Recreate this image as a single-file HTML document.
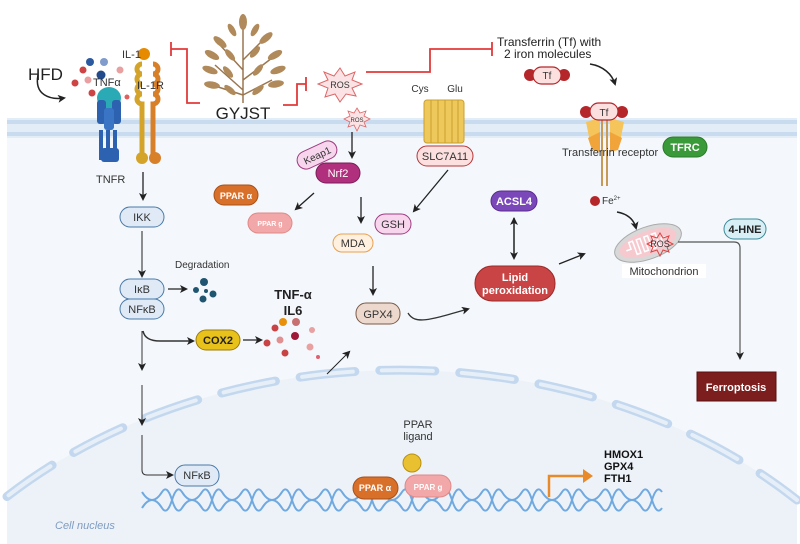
<!DOCTYPE html>
<html><head><meta charset="utf-8"><style>
html,body{margin:0;padding:0;background:#fff;width:800px;height:544px;overflow:hidden;}
svg{display:block;font-family:"Liberation Sans",sans-serif;}
</style></head><body>
<svg width="800" height="544" viewBox="0 0 800 544" xmlns="http://www.w3.org/2000/svg">
<defs>
<marker id="ah" markerWidth="8" markerHeight="8" refX="6" refY="4" orient="auto" markerUnits="userSpaceOnUse"><path d="M0,0 L8,4 L0,8 L2,4 Z" fill="#222"/></marker>
<marker id="ahs" markerWidth="8" markerHeight="8" refX="7" refY="4" orient="auto-start-reverse" markerUnits="userSpaceOnUse"><path d="M0,0 L8,4 L0,8 L2,4 Z" fill="#222"/></marker>
<clipPath id="dna"><rect x="140" y="480" width="528" height="40"/></clipPath>
</defs>
<rect x="7" y="118" width="790" height="426" fill="#f4f8fc"/>
<rect x="7" y="118" width="790" height="20" fill="#e3edf7"/>
<rect x="7" y="120" width="790" height="4" fill="#c9dcef"/>
<rect x="7" y="132" width="790" height="4" fill="#c9dcef"/>
<path d="M7,496.5 A560,440 0 0,1 797,500 L797,544 L7,544 Z" fill="#edf2f9"/>
<path d="M7,496.5 A560,440 0 0,1 797,500" fill="none" stroke="#c3d8ee" stroke-width="9" stroke-dasharray="55 25" stroke-linecap="round"/>
<path d="M7,496.5 A560,440 0 0,1 797,500" fill="none" stroke="#e6eef8" stroke-width="4" stroke-dasharray="51 29" stroke-dashoffset="-2" stroke-linecap="round"/>
<text x="55" y="529" font-size="11" font-style="italic" fill="#7f9cc0">Cell nucleus</text>

<text x="28" y="80" font-size="17" fill="#222">HFD</text>
<path d="M38,75 C34,95 50,100 64,98" fill="none" stroke="#222" stroke-width="1.5" marker-end="url(#ah)"/>
<g>
<circle cx="90" cy="62" r="4" fill="#2c5aa0"/><circle cx="104" cy="62" r="4" fill="#7f9ccc"/>
<circle cx="83" cy="70" r="3.5" fill="#c44"/><circle cx="101" cy="75" r="4.5" fill="#234a8a"/>
<circle cx="120" cy="70" r="3.5" fill="#e8a0a0"/><circle cx="75" cy="83" r="3.5" fill="#c44"/>
<circle cx="88" cy="80" r="3.5" fill="#e8a0a0"/><circle cx="92" cy="93" r="3.5" fill="#c44"/>
<circle cx="127" cy="97" r="2.5" fill="#e06060"/>
</g>
<g fill="#2d62b0">
<ellipse cx="109" cy="98" rx="12" ry="11" fill="#2aaab5"/>
<rect x="97" y="100" width="9" height="24" rx="3"/><rect x="112" y="100" width="9" height="24" rx="3"/>
<rect x="104" y="108" width="10" height="22" rx="3" fill="#3a74c4"/>
<rect x="99" y="130" width="4" height="30" /><rect x="106" y="130" width="4" height="32"/><rect x="113" y="130" width="4" height="30"/>
<rect x="101" y="148" width="18" height="14" rx="3" fill="#2d62b0"/>
</g>
<text x="93" y="86" font-size="11" fill="#333">TNFα</text>
<text x="96" y="183" font-size="11" fill="#333">TNFR</text>
<g fill="none" stroke="#d4a32a" stroke-width="5">
<path d="M142,64 a5,5 0 1 0 0,10 a5,5 0 1 0 0,10 a5,5 0 1 0 0,10 a5,5 0 1 0 0,10 V155"/>
</g>
<g fill="none" stroke="#d87f2a" stroke-width="5">
<path d="M153,64 a5,5 0 1 1 0,10 a5,5 0 1 1 0,10 a5,5 0 1 1 0,10 a5,5 0 1 1 0,10 V155"/>
</g>
<circle cx="142" cy="158" r="6" fill="#d4a32a"/><circle cx="155" cy="158" r="6" fill="#d87f2a"/>
<circle cx="144" cy="54" r="6" fill="#e68a00"/>
<text x="122" y="58" font-size="11" fill="#333">IL-1</text>
<text x="137" y="89" font-size="11" fill="#333">IL-1R</text>

<g stroke="#9a7650" stroke-width="1.5" fill="#b08a5a">
<path d="M243,103 V25 M243,90 L215,65 M243,80 L272,58 M243,70 L220,45 M243,60 L265,38 M243,95 L272,80 M243,95 L212,85" fill="none"/>
<g stroke="none">
<ellipse cx="243" cy="22" rx="4" ry="8"/><ellipse cx="232" cy="30" rx="3" ry="7" transform="rotate(-30 232 30)"/>
<ellipse cx="255" cy="30" rx="3" ry="7" transform="rotate(30 255 30)"/><ellipse cx="220" cy="42" rx="3.5" ry="8" transform="rotate(-50 220 42)"/>
<ellipse cx="266" cy="38" rx="3.5" ry="8" transform="rotate(50 266 38)"/><ellipse cx="212" cy="55" rx="3.5" ry="8" transform="rotate(-60 212 55)"/>
<ellipse cx="275" cy="55" rx="3.5" ry="8" transform="rotate(60 275 55)"/><ellipse cx="210" cy="70" rx="3.5" ry="8" transform="rotate(-70 210 70)"/>
<ellipse cx="278" cy="70" rx="3.5" ry="8" transform="rotate(70 278 70)"/><ellipse cx="212" cy="85" rx="3.5" ry="8" transform="rotate(-80 212 85)"/>
<ellipse cx="276" cy="84" rx="3.5" ry="8" transform="rotate(80 276 84)"/><ellipse cx="230" cy="55" rx="3" ry="7" transform="rotate(-40 230 55)"/>
<ellipse cx="255" cy="52" rx="3" ry="7" transform="rotate(40 255 52)"/><ellipse cx="228" cy="72" rx="3" ry="7" transform="rotate(-40 228 72)"/>
<ellipse cx="258" cy="70" rx="3" ry="7" transform="rotate(40 258 70)"/><ellipse cx="230" cy="90" rx="3" ry="7" transform="rotate(-50 230 90)"/>
<ellipse cx="258" cy="90" rx="3" ry="7" transform="rotate(50 258 90)"/>
</g></g>
<text x="243" y="119" font-size="17" fill="#222" text-anchor="middle">GYJST</text>

<g fill="none" stroke="#e23a3a" stroke-width="1.8">
<path d="M200,103 H187 V49 H171 M171,42 V56"/>
<path d="M283,105 H297 V84 H306 M306,77 V91"/>
<path d="M366,72 H430 V49 H492 M492,42 V56"/>
</g>
<polygon points="340,68 345,76 355,72 352,80 362,84 352,88 356,96 346,94 340,102 335,94 325,97 328,88 318,84 328,80 324,72 334,76" fill="#fbe3e5" stroke="#d66" stroke-width="1"/>
<text x="340" y="88" font-size="9" text-anchor="middle" fill="#333">ROS</text>
<polygon points="357,108 360,113 366,111 364,116 370,119 364,122 366,127 360,125 357,131 354,125 348,127 350,122 344,119 350,116 348,111 354,113" fill="#fbe3e5" stroke="#d66" stroke-width="0.8"/>
<text x="357" y="122" font-size="6" text-anchor="middle" fill="#333">ROS</text>

<text x="497" y="46" font-size="12" fill="#222">Transferrin (Tf) with</text>
<text x="504" y="58" font-size="12" fill="#222">2 iron molecules</text>
<circle cx="530" cy="75" r="6" fill="#b5262a"/><circle cx="564" cy="75" r="6" fill="#b5262a"/>
<rect x="533" y="67" width="28" height="17" rx="8.5" fill="#fbe0df" stroke="#b5262a" stroke-width="1.2"/>
<text x="547" y="79" font-size="10" text-anchor="middle" fill="#333">Tf</text>
<path d="M590,64 C603,66 612,74 615,84" fill="none" stroke="#222" stroke-width="1.5" marker-end="url(#ah)"/>
<path d="M586,122 L600,118 L600,145 L590,142 Z M624,122 L610,118 L610,145 L620,142 Z" fill="#f5c45a"/>
<path d="M588,138 L600,132 L600,152 L592,150 Z M622,138 L610,132 L610,152 L618,150 Z" fill="#f0a43a"/>
<rect x="601" y="118" width="2" height="68" fill="#c99a55"/><rect x="606" y="118" width="2" height="68" fill="#c99a55"/>
<circle cx="586" cy="112" r="6" fill="#b5262a"/><circle cx="622" cy="112" r="6" fill="#b5262a"/>
<rect x="590" y="103" width="28" height="17" rx="8.5" fill="#fbe0df" stroke="#b5262a" stroke-width="1.2"/>
<text x="604" y="116" font-size="10" text-anchor="middle" fill="#333">Tf</text>
<text x="562" y="156" font-size="11" fill="#333">Transferrin receptor</text>
<rect x="663" y="137" width="44" height="20" rx="10" fill="#3a9a3a" stroke="#2a7a2a"/>
<text x="685" y="151" font-size="11" font-weight="bold" text-anchor="middle" fill="#fff">TFRC</text>
<circle cx="595" cy="201" r="5" fill="#b5262a"/>
<text x="602" y="204" font-size="10" fill="#333">Fe<tspan font-size="6" dy="-4">2+</tspan></text>
<path d="M617,212 C628,214 634,220 636,228" fill="none" stroke="#222" stroke-width="1.5" marker-end="url(#ah)"/>
<g transform="rotate(-20 648 243)">
<ellipse cx="648" cy="243" rx="35" ry="16" fill="#d8d8d8" stroke="#aaa"/>
<ellipse cx="648" cy="243" rx="30" ry="12" fill="#f6c9cf"/>
<path d="M625,243 h5 v-7 h4 v14 h4 v-14 h4 v14 h4 v-14 h4 v14 h4 v-14 h4 v14 h4 v-7 h5" fill="none" stroke="#fff" stroke-width="1.5"/>
</g>
<polygon points="660,233 663,238 669,236 667,241 673,244 667,247 669,252 663,250 660,256 657,250 651,252 653,247 647,244 653,241 651,236 657,238" fill="none" stroke="#d44" stroke-width="1"/>
<text x="660" y="247" font-size="9" text-anchor="middle" fill="#333">ROS</text>
<rect x="622" y="264" width="84" height="14" fill="#fff"/>
<text x="664" y="275" font-size="11" text-anchor="middle" fill="#333">Mitochondrion</text>
<rect x="724" y="219" width="42" height="20" rx="10" fill="#d7eff5" stroke="#3a8a9a"/>
<text x="745" y="233" font-size="11" font-weight="bold" text-anchor="middle" fill="#222">4-HNE</text>
<path d="M678,242 H734 Q740,242 740,248 V358" fill="none" stroke="#555" stroke-width="1.2" marker-end="url(#ah)"/>
<rect x="697" y="372" width="79" height="29" fill="#7d1e1e" stroke="#5a1010"/>
<text x="736" y="391" font-size="11" font-weight="bold" text-anchor="middle" fill="#fff">Ferroptosis</text>

<text x="420" y="92" font-size="10" fill="#333" text-anchor="middle">Cys</text>
<text x="455" y="92" font-size="10" fill="#333" text-anchor="middle">Glu</text>
<rect x="424" y="100" width="40" height="43" rx="3" fill="#eec85a" stroke="#c9a030"/>
<g stroke="#c9a030"><line x1="431" y1="100" x2="431" y2="143"/><line x1="438" y1="100" x2="438" y2="143"/><line x1="445" y1="100" x2="445" y2="143"/><line x1="452" y1="100" x2="452" y2="143"/><line x1="458" y1="100" x2="458" y2="143"/></g>
<rect x="417" y="146" width="56" height="20" rx="10" fill="#fbe0df" stroke="#b5363a"/>
<text x="445" y="160" font-size="11" text-anchor="middle" fill="#333">SLC7A11</text>
<line x1="448" y1="170" x2="414" y2="211" stroke="#222" stroke-width="1.3" marker-end="url(#ah)"/>
<rect x="375" y="214" width="36" height="20" rx="10" fill="#f7d5ec" stroke="#a03a80"/>
<text x="393" y="228" font-size="11" text-anchor="middle" fill="#333">GSH</text>

<line x1="352" y1="132" x2="352" y2="157" stroke="#222" stroke-width="1.3" marker-end="url(#ah)"/>
<rect x="296" y="146" width="42" height="18" rx="9" fill="#f7d5ec" stroke="#a03a80" transform="rotate(-25 317 155)"/>
<text x="317" y="159" font-size="10" text-anchor="middle" fill="#333" transform="rotate(-25 317 155)">Keap1</text>
<rect x="316" y="163" width="44" height="20" rx="10" fill="#b0307e" stroke="#7a1d58"/>
<text x="338" y="177" font-size="11" text-anchor="middle" fill="#fff">Nrf2</text>
<rect x="214" y="185" width="44" height="20" rx="10" fill="#d8702a" stroke="#a85018"/>
<text x="236" y="199" font-size="9" font-weight="bold" text-anchor="middle" fill="#fff">PPAR α</text>
<rect x="248" y="213" width="44" height="20" rx="10" fill="#f2a8a8" stroke="#e08888"/>
<text x="270" y="226" font-size="7" font-weight="bold" text-anchor="middle" fill="#fff">PPAR g</text>
<line x1="314" y1="193" x2="296" y2="209" stroke="#222" stroke-width="1.3" marker-end="url(#ah)"/>
<line x1="361" y1="197" x2="361" y2="222" stroke="#222" stroke-width="1.3" marker-end="url(#ah)"/>
<rect x="333" y="234" width="40" height="18" rx="9" fill="#fff0e0" stroke="#e8a050"/>
<text x="353" y="247" font-size="11" text-anchor="middle" fill="#333">MDA</text>
<line x1="373" y1="266" x2="373" y2="294" stroke="#222" stroke-width="1.3" marker-end="url(#ah)"/>
<rect x="356" y="303" width="44" height="21" rx="10" fill="#ecd8cc" stroke="#7a5a48"/>
<text x="378" y="318" font-size="11" text-anchor="middle" fill="#333">GPX4</text>
<path d="M408,313 C415,325 430,320 468,309" fill="none" stroke="#333" stroke-width="1.3" marker-end="url(#ah)"/>
<rect x="491" y="191" width="46" height="20" rx="10" fill="#7a48b8" stroke="#5a2a90"/>
<text x="514" y="205" font-size="11" font-weight="bold" text-anchor="middle" fill="#fff">ACSL4</text>
<line x1="514" y1="218" x2="514" y2="258" stroke="#222" stroke-width="1.5" marker-start="url(#ahs)" marker-end="url(#ah)"/>
<rect x="475" y="266" width="80" height="35" rx="17" fill="#c94444" stroke="#9a2a2a"/>
<text x="515" y="281" font-size="11" font-weight="bold" text-anchor="middle" fill="#fff">Lipid</text>
<text x="515" y="294" font-size="11" font-weight="bold" text-anchor="middle" fill="#fff">peroxidation</text>
<line x1="559" y1="264" x2="584" y2="254" stroke="#222" stroke-width="1.3" marker-end="url(#ah)"/>

<line x1="143" y1="172" x2="143" y2="199" stroke="#222" stroke-width="1.3" marker-end="url(#ah)"/>
<rect x="120" y="207" width="44" height="20" rx="10" fill="#dfeaf6" stroke="#4a7aa8"/>
<text x="142" y="221" font-size="11" text-anchor="middle" fill="#333">IKK</text>
<line x1="142" y1="231" x2="142" y2="276" stroke="#333" stroke-width="1.1" marker-end="url(#ah)"/>
<rect x="120" y="279" width="44" height="20" rx="10" fill="#dfeaf6" stroke="#4a7aa8"/>
<text x="142" y="293" font-size="11" text-anchor="middle" fill="#333">IκB</text>
<rect x="120" y="299" width="44" height="20" rx="10" fill="#dfeaf6" stroke="#4a7aa8"/>
<text x="142" y="313" font-size="11" text-anchor="middle" fill="#333">NFκB</text>
<line x1="168" y1="289" x2="186" y2="289" stroke="#222" stroke-width="1.3" marker-end="url(#ah)"/>
<text x="175" y="268" font-size="10" fill="#333">Degradation</text>
<g fill="#1f5570"><circle cx="204" cy="282" r="4"/><circle cx="196" cy="290" r="3"/><circle cx="213" cy="294" r="3.5"/><circle cx="203" cy="299" r="3.5"/><circle cx="206" cy="291" r="2"/></g>
<path d="M143,331 Q145,341 160,341 H193" fill="none" stroke="#333" stroke-width="1.5" marker-end="url(#ah)"/>
<rect x="196" y="330" width="44" height="20" rx="10" fill="#e8c21a" stroke="#9a7a10"/>
<text x="218" y="344" font-size="11" font-weight="bold" text-anchor="middle" fill="#222">COX2</text>
<line x1="243" y1="340" x2="261" y2="340" stroke="#222" stroke-width="1.3" marker-end="url(#ah)"/>
<text x="293" y="299" font-size="13" font-weight="bold" text-anchor="middle" fill="#222">TNF-α</text>
<text x="293" y="315" font-size="13" font-weight="bold" text-anchor="middle" fill="#222">IL6</text>
<g><circle cx="283" cy="322" r="4" fill="#e8900a"/><circle cx="296" cy="322" r="4" fill="#c87070"/><circle cx="275" cy="328" r="3.5" fill="#c84444"/>
<circle cx="295" cy="336" r="4" fill="#a01838"/><circle cx="280" cy="340" r="3.5" fill="#e09090"/><circle cx="312" cy="330" r="3" fill="#e8a0a0"/>
<circle cx="267" cy="343" r="3.5" fill="#c84444"/><circle cx="285" cy="353" r="3.5" fill="#c84444"/><circle cx="310" cy="347" r="3.5" fill="#e8a0a0"/><circle cx="318" cy="357" r="2" fill="#e06070"/></g>
<line x1="327" y1="374" x2="349" y2="352" stroke="#222" stroke-width="1" marker-end="url(#ah)"/>
<line x1="142" y1="331" x2="142" y2="369" stroke="#333" stroke-width="1" marker-end="url(#ah)"/>
<line x1="142" y1="385" x2="142" y2="424" stroke="#333" stroke-width="1" marker-end="url(#ah)"/>
<path d="M142,435 V470 Q142,475 147,475 H172" fill="none" stroke="#333" stroke-width="1" marker-end="url(#ah)"/>
<rect x="175" y="465" width="44" height="21" rx="10" fill="#dfeaf6" stroke="#4a7aa8"/>
<text x="197" y="479" font-size="11" text-anchor="middle" fill="#333">NFκB</text>

<g fill="none" stroke="#6fa9e0" stroke-width="2" clip-path="url(#dna)">
<path d="M142,492 q5,8 10,8 t10,8 t10,-8 t10,-8 t10,8 t10,8 t10,-8 t10,-8 t10,8 t10,8 t10,-8 t10,-8 t10,8 t10,8 t10,-8 t10,-8 t10,8 t10,8 t10,-8 t10,-8 t10,8 t10,8 t10,-8 t10,-8 t10,8 t10,8 t10,-8 t10,-8 t10,8 t10,8 t10,-8 t10,-8 t10,8 t10,8 t10,-8 t10,-8 t10,8 t10,8 t10,-8 t10,-8 t10,8 t10,8 t10,-8 t10,-8 t10,8 t10,8 t10,-8 t10,-8 t10,8 t10,8 t10,-8 t10,-8"/>
<path d="M142,508 q5,-8 10,-8 t10,-8 t10,8 t10,8 t10,-8 t10,-8 t10,8 t10,8 t10,-8 t10,-8 t10,8 t10,8 t10,-8 t10,-8 t10,8 t10,8 t10,-8 t10,-8 t10,8 t10,8 t10,-8 t10,-8 t10,8 t10,8 t10,-8 t10,-8 t10,8 t10,8 t10,-8 t10,-8 t10,8 t10,8 t10,-8 t10,-8 t10,8 t10,8 t10,-8 t10,-8 t10,8 t10,8 t10,-8 t10,-8 t10,8 t10,8 t10,-8 t10,-8 t10,8 t10,8 t10,-8 t10,-8 t10,8 t10,8"/>
</g>
<text x="418" y="428" font-size="11" text-anchor="middle" fill="#333">PPAR</text>
<text x="418" y="440" font-size="11" text-anchor="middle" fill="#333">ligand</text>
<circle cx="412" cy="463" r="9" fill="#e8c030" stroke="#b89010"/>
<rect x="405" y="475" width="46" height="22" rx="11" fill="#f2a8a8" stroke="#e08888"/>
<text x="428" y="490" font-size="8" font-weight="bold" text-anchor="middle" fill="#fff">PPAR g</text>
<rect x="353" y="477" width="45" height="22" rx="11" fill="#d8702a" stroke="#a85018"/>
<text x="375" y="491" font-size="9" font-weight="bold" text-anchor="middle" fill="#fff">PPAR α</text>
<path d="M549,497 V476 H585" fill="none" stroke="#e88a2a" stroke-width="2.5"/>
<path d="M583,469 L593,476 L583,483 Z" fill="#e88a2a"/>
<text x="604" y="458" font-size="11" font-weight="bold" fill="#111">HMOX1</text>
<text x="604" y="470" font-size="11" font-weight="bold" fill="#111">GPX4</text>
<text x="604" y="482" font-size="11" font-weight="bold" fill="#111">FTH1</text>
</svg>
</body></html>
